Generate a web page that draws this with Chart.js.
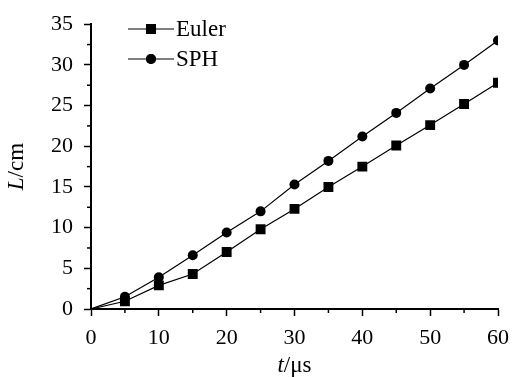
<!DOCTYPE html>
<html>
<head>
<meta charset="utf-8">
<script src="https://cdn.jsdelivr.net/npm/chart.js@4"></script>
<style>
  html, body { margin: 0; padding: 0; background: #fff; }
  #wrap { width: 518px; height: 378px; position: relative; }
</style>
</head>
<body>
<div id="wrap"><canvas id="chart"></canvas></div>
<script>
// === Data ===
const times = [0, 5, 10, 15, 20, 25, 30, 35, 40, 45, 50, 55, 60];
const eulerL = [0, 0.95, 2.9, 4.3, 7.0, 9.8, 12.3, 15.0, 17.5, 20.1, 22.6, 25.2, 27.8];
const sphL = [0, 1.5, 3.9, 6.6, 9.4, 12.0, 15.3, 18.2, 21.2, 24.1, 27.1, 30.0, 33.0];
const seriesNames = ["Euler", "SPH"];

const FONT = "'Liberation Serif', 'Times New Roman', serif";

const toPoints = (ys) => times.map((t, i) => ({ x: t, y: ys[i] }));
// no marker drawn at the origin
const markerSize = (r) => (ctx) => (ctx.parsed && ctx.parsed.x === 0 ? 0 : r);

// === Minor ticks, axis titles and legend ===
const extrasPlugin = {
  id: "extras",
  afterDraw(chart) {
    const c = chart.ctx;
    const xs = chart.scales.x, ys = chart.scales.y;
    const area = chart.chartArea;
    c.save();
    c.strokeStyle = "#000";
    c.lineWidth = 1.5;
    // minor ticks
    for (let v = 5; v < 60; v += 10) {
      const px = xs.getPixelForValue(v);
      c.beginPath(); c.moveTo(px, area.bottom); c.lineTo(px, area.bottom + 4); c.stroke();
    }
    for (let v = 2.5; v < 35; v += 5) {
      const py = ys.getPixelForValue(v);
      c.beginPath(); c.moveTo(area.left, py); c.lineTo(area.left - 4, py); c.stroke();
    }

    // axis titles with italic variable
    c.fillStyle = "#000";
    c.textBaseline = "middle";
    const drawMixed = (parts, cx, cy) => {
      let total = 0;
      parts.forEach((p) => { c.font = p.font; total += c.measureText(p.text).width; });
      let x = cx - total / 2;
      c.textAlign = "left";
      parts.forEach((p) => { c.font = p.font; c.fillText(p.text, x, cy); x += c.measureText(p.text).width; });
    };
    drawMixed([
      { text: "t", font: "italic 23px " + FONT },
      { text: "/μs", font: "23px " + FONT },
    ], (area.left + area.right) / 2, 366);
    c.save();
    c.translate(17, (area.top + area.bottom) / 2);
    c.rotate(-Math.PI / 2);
    drawMixed([
      { text: "L", font: "italic 23px " + FONT },
      { text: "/cm", font: "23px " + FONT },
    ], 0, 0);
    c.restore();

    // legend
    const rows = [
      { name: seriesNames[0], style: "rect", y: 29 },
      { name: seriesNames[1], style: "circle", y: 59 },
    ];
    rows.forEach((r) => {
      c.lineWidth = 1.2;
      c.beginPath(); c.moveTo(128, r.y); c.lineTo(174, r.y); c.stroke();
      Chart.helpers.drawPoint(c, { pointStyle: r.style, radius: r.style === "rect" ? 7 : 5, rotation: 0, borderWidth: 0 }, 151, r.y);
      c.fill();
      c.font = "23px " + FONT;
      c.textAlign = "left";
      c.fillText(r.name, 176, r.y + 1);
    });
    c.restore();
  },
};

// === Chart ===
new Chart(document.getElementById("chart"), {
  type: "line",
  data: {
    datasets: [
      {
        label: seriesNames[0],
        data: toPoints(eulerL),
        borderColor: "#000",
        backgroundColor: "#000",
        borderWidth: 1.2,
        pointStyle: "rect",
        pointRadius: markerSize(7),
        pointBorderWidth: 0,
        tension: 0,
      },
      {
        label: seriesNames[1],
        data: toPoints(sphL),
        borderColor: "#000",
        backgroundColor: "#000",
        borderWidth: 1.2,
        pointStyle: "circle",
        pointRadius: markerSize(5),
        pointBorderWidth: 0,
        tension: 0,
      },
    ],
  },
  options: {
    responsive: true,
    maintainAspectRatio: false,
    animation: false,
    layout: { padding: { top: 15, right: 19, left: 0, bottom: 0 } },
    plugins: { legend: { display: false }, tooltip: { enabled: false } },
    scales: {
      x: {
        type: "linear",
        min: 0,
        max: 60,
        ticks: { stepSize: 10, color: "#000", font: { family: FONT, size: 22 }, padding: 9 },
        grid: { drawOnChartArea: false, color: "#000", tickLength: 7, tickWidth: 1.5 },
        border: { color: "#000", width: 2 },
        afterFit: (s) => { s.height = 69; },
      },
      y: {
        min: 0,
        max: 35,
        ticks: { stepSize: 5, color: "#000", font: { family: FONT, size: 22 }, padding: 11 },
        grid: { drawOnChartArea: false, color: "#000", tickLength: 7, tickWidth: 1.5 },
        border: { color: "#000", width: 2 },
        afterFit: (s) => { s.width = 91; },
      },
    },
  },
  plugins: [extrasPlugin],
});
</script>
</body>
</html>
